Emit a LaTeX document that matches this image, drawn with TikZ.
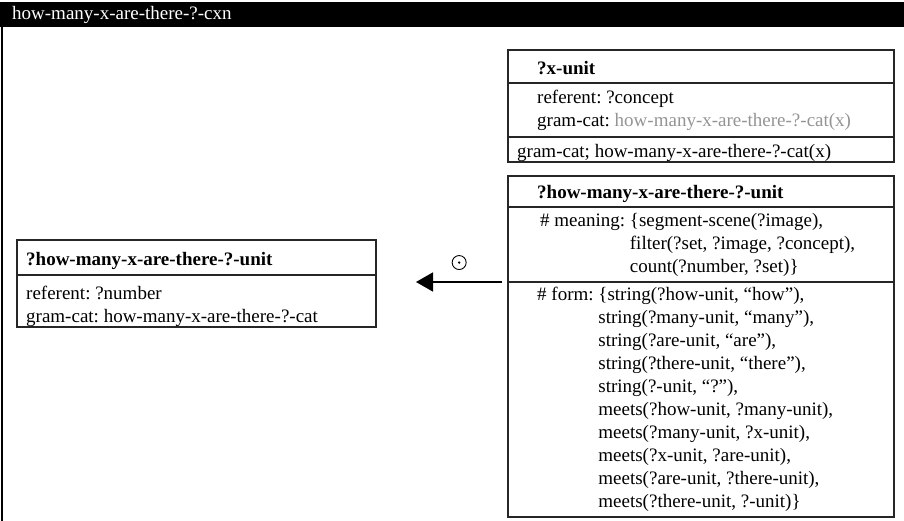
\documentclass[tikz,border=0pt]{standalone}
\usepackage{fontspec}
\setmainfont{Liberation Serif}
\usetikzlibrary{positioning,arrows.meta}

\newcommand\unitfont{\fontsize{19}{23}\selectfont\frenchspacing}

\tikzset{
  part/.style={draw=black!85, line width=1.2pt, minimum width=386pt, inner sep=0pt, outer sep=0pt},
  txt/.style={anchor=west, align=left, inner sep=0pt, font=\unitfont},
  headtxt/.style={txt, font=\unitfont\bfseries},
}

\begin{document}
\begin{tikzpicture}[x=1pt,y=-1pt,>=stealth]
  \useasboundingbox (0,0) rectangle (904,521);
  % frame and header
  \draw[line width=1.5pt] (2,2) -- (2,521);
  \fill[black] (0,2) rectangle (904,27);
  \node[txt, text=white] (cxnname) at (12,15) {how-many-x-are-there-?-cxn};

  % ?x-unit
  \node[part, anchor=north west, minimum height=33pt] (xhead) at (508,50) {};
  \node[part, minimum height=54pt, below=0pt of xhead] (xbody) {};
  \node[part, minimum height=25pt, below=0pt of xbody] (xfoot) {};
  \node[headtxt] (xheadtext) at ([xshift=29pt,yshift=-2pt]xhead.west) {?x-unit};
  \node[txt] (xbodytext) at ([xshift=29pt]xbody.west)
    {referent: ?concept\\gram-cat: {\color{black!42}how-many-x-are-there-?-cat(x)}};
  \node[txt] (xfoottext) at ([xshift=9pt,yshift=-3pt]xfoot.west) {gram-cat; how-many-x-are-there-?-cat(x)};

  % ?how-many-x-are-there-?-unit (right)
  \node[part, anchor=north west, minimum height=31pt] (hmhead) at (508,176) {};
  \node[part, minimum height=75pt, below=0pt of hmhead] (hmmeaning) {};
  \node[part, minimum height=235pt, below=0pt of hmmeaning] (hmform) {};
  \node[headtxt] (hmheadtext) at ([xshift=29pt,yshift=-2pt]hmhead.west) {?how-many-x-are-there-?-unit};
  \node[txt] (hmmeaningtext) at ([xshift=32pt]hmmeaning.west)
    {\begin{tabular}{@{}l@{\ }l@{}}
       \# meaning: & \{segment-scene(?image),\\
                   & filter(?set, ?image, ?concept),\\
                   & count(?number, ?set)\}
     \end{tabular}};
  \node[txt] (hmformtext) at ([xshift=29pt]hmform.west)
    {\begin{tabular}{@{}l@{\ }l@{}}
       \# form: & \{string(?how-unit, “how”),\\
                & string(?many-unit, “many”),\\
                & string(?are-unit, “are”),\\
                & string(?there-unit, “there”),\\
                & string(?-unit, “?”),\\
                & meets(?how-unit, ?many-unit),\\
                & meets(?many-unit, ?x-unit),\\
                & meets(?x-unit, ?are-unit),\\
                & meets(?are-unit, ?there-unit),\\
                & meets(?there-unit, ?-unit)\}
     \end{tabular}};

  % ?how-many-x-are-there-?-unit (left)
  \node[part, anchor=north west, minimum width=359pt, minimum height=35pt] (numhead) at (17,240) {};
  \node[part, minimum width=359pt, minimum height=52pt, below=0pt of numhead] (numbody) {};
  \node[headtxt] (numheadtext) at ([xshift=9pt,yshift=-3pt]numhead.west) {?how-many-x-are-there-?-unit};
  \node[txt] (numbodytext) at ([xshift=9pt,yshift=-5pt]numbody.west)
    {referent: ?number\\gram-cat: how-many-x-are-there-?-cat};

  \draw[line width=1.5pt, -{Triangle[length=17pt,width=19pt]}, shorten <=6pt, shorten >=40pt]
    (hmform.north west) -- (hmform.north west -| numbody.east)
    node[pos=0.37, above=12pt, circle, draw, line width=0.9pt, minimum size=14pt, inner sep=0pt] (meets) {};
  \fill (meets.center) circle (1.3pt);
\end{tikzpicture}
\end{document}
